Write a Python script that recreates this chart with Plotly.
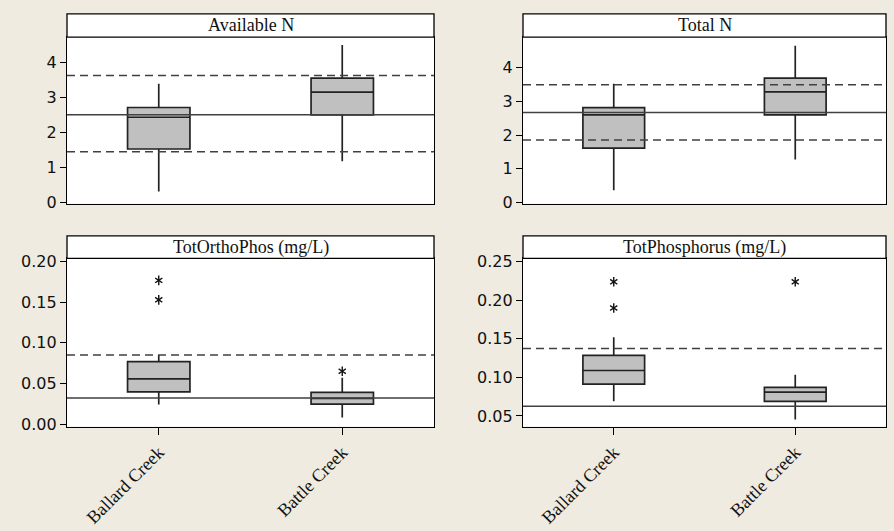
import plotly.graph_objects as go

# ---- data -------------------------------------------------------------
sites = ["Ballard Creek", "Battle Creek"]

# Available N
avail_lower = [0.31, 1.18]
avail_q1 = [1.53, 2.51]
avail_median = [2.44, 3.16]
avail_q3 = [2.72, 3.56]
avail_upper = [3.40, 4.51]
avail_center = 2.51
avail_limits = [3.64, 1.45]

# Total N
total_lower = [0.36, 1.27]
total_q1 = [1.61, 2.60]
total_median = [2.60, 3.28]
total_q3 = [2.81, 3.69]
total_upper = [3.52, 4.65]
total_center = 2.67
total_limits = [3.49, 1.85]

# TotOrthoPhos (mg/L)
ortho_lower = [0.024, 0.008]
ortho_q1 = [0.0396, 0.0244]
ortho_median = [0.0556, 0.0316]
ortho_q3 = [0.0768, 0.039]
ortho_upper = [0.085, 0.057]
ortho_center = 0.032
ortho_limits = [0.085]
ortho_out_site = ["Ballard Creek", "Ballard Creek", "Battle Creek"]
ortho_out_val = [0.177, 0.153, 0.065]

# TotPhosphorus (mg/L)
phos_lower = [0.069, 0.0453]
phos_q1 = [0.0913, 0.069]
phos_median = [0.109, 0.0808]
phos_q3 = [0.1287, 0.0871]
phos_upper = [0.152, 0.1035]
phos_center = 0.0625
phos_limits = [0.1376]
phos_out_site = ["Ballard Creek", "Ballard Creek", "Battle Creek"]
phos_out_val = [0.224, 0.190, 0.224]

# ---- styling ----------------------------------------------------------
W, H = 894, 531
BG = "#EFEBE0"
BOX_FILL = "#C0C0C0"
BOX_LINE = "#222222"
REF_LINE = "#404040"
INK = "#111111"
SANS = "DejaVu Sans"
SERIF = "Liberation Serif"

panels = [
    dict(title="Available N", lower=avail_lower, q1=avail_q1, med=avail_median,
         q3=avail_q3, upper=avail_upper, center=avail_center, limits=avail_limits,
         out_x=[], out_y=[], yrange=[-0.036, 4.736], dtick=1, fmt="d",
         px=(67, 434), py=(32, 203), head=8, bottom_row=False),
    dict(title="Total N", lower=total_lower, q1=total_q1, med=total_median,
         q3=total_q3, upper=total_upper, center=total_center, limits=total_limits,
         out_x=[], out_y=[], yrange=[-0.038, 4.905], dtick=1, fmt="d",
         px=(523, 886), py=(32, 203), head=8, bottom_row=False),
    dict(title="TotOrthoPhos (mg/L)", lower=ortho_lower, q1=ortho_q1, med=ortho_median,
         q3=ortho_q3, upper=ortho_upper, center=ortho_center, limits=ortho_limits,
         out_x=ortho_out_site, out_y=ortho_out_val, yrange=[-0.0032, 0.204],
         dtick=0.05, fmt=".2f", px=(67, 434), py=(259.3, 432), head=236, bottom_row=True),
    dict(title="TotPhosphorus (mg/L)", lower=phos_lower, q1=phos_q1, med=phos_median,
         q3=phos_q3, upper=phos_upper, center=phos_center, limits=phos_limits,
         out_x=phos_out_site, out_y=phos_out_val, yrange=[0.0362, 0.2543],
         dtick=0.05, fmt=".2f", px=(523, 886), py=(259.3, 432), head=236, bottom_row=True),
]

fig = go.Figure()
shapes = []
annotations = []
layout = {}

for i, p in enumerate(panels, start=1):
    xa = "x" if i == 1 else f"x{i}"
    ya = "y" if i == 1 else f"y{i}"
    xkey = "xaxis" if i == 1 else f"xaxis{i}"
    ykey = "yaxis" if i == 1 else f"yaxis{i}"

    fig.add_trace(go.Box(
        x=sites, q1=p["q1"], median=p["med"], q3=p["q3"],
        lowerfence=p["lower"], upperfence=p["upper"],
        width=0.34, whiskerwidth=0, boxpoints=False,
        fillcolor=BOX_FILL, line=dict(color=BOX_LINE, width=1.7),
        showlegend=False, xaxis=xa, yaxis=ya, hoverinfo="skip",
    ))

    # outliers drawn as six-armed asterisks (two overlaid Y marks)
    if p["out_y"]:
        for sym in ("y-up-open", "y-down-open"):
            fig.add_trace(go.Scatter(
                x=p["out_x"], y=p["out_y"], mode="markers",
                marker=dict(symbol=sym, size=6, color=INK, line=dict(color=INK, width=1.4)),
                showlegend=False, xaxis=xa, yaxis=ya, hoverinfo="skip",
            ))

    x0, x1 = p["px"]
    y0, y1 = p["py"]
    plot_h = y1 - y0
    head_top = 1 + (y0 - p["head"]) / plot_h

    layout[xkey] = dict(
        domain=[x0 / W, x1 / W], anchor=ya, type="category",
        range=[-0.5, 1.5], showline=True, mirror=True, linecolor="black", linewidth=1.3,
        showgrid=False, zeroline=False,
        ticks="outside" if p["bottom_row"] else "", ticklen=7, tickwidth=1.3, tickcolor="black",
        showticklabels=p["bottom_row"], tickangle=-45,
        tickfont=dict(family=SERIF, size=18, color=INK),
    )
    layout[ykey] = dict(
        domain=[1 - y1 / H, 1 - y0 / H], anchor=xa,
        range=p["yrange"], showline=True, mirror=True, linecolor="black", linewidth=1.3,
        showgrid=False, zeroline=False, dtick=p["dtick"], tick0=0, tickformat=p["fmt"],
        ticks="outside", ticklen=6, tickwidth=1.3, tickcolor="black",
        tickfont=dict(family=SANS, size=16, color=INK),
    )

    # header strip with the panel title
    shapes.append(dict(type="rect", xref=f"{xa} domain", yref=f"{ya} domain",
                       x0=0, x1=1, y0=1, y1=head_top, fillcolor="white",
                       line=dict(color="black", width=1.3), layer="above"))
    annotations.append(dict(text=p["title"], xref=f"{xa} domain", yref=f"{ya} domain",
                            x=0.5, y=(1 + head_top) / 2, xanchor="center", yanchor="middle",
                            showarrow=False, font=dict(family=SERIF, size=18, color=INK)))

    # reference lines: solid centre, dashed limits
    shapes.append(dict(type="line", xref=f"{xa} domain", yref=ya, x0=0, x1=1,
                       y0=p["center"], y1=p["center"], layer="above",
                       line=dict(color=REF_LINE, width=1.5)))
    for lim in p["limits"]:
        shapes.append(dict(type="line", xref=f"{xa} domain", yref=ya, x0=0, x1=1,
                           y0=lim, y1=lim, layer="above",
                           line=dict(color=REF_LINE, width=1.5, dash="8px,5px")))

fig.update_layout(
    width=W, height=H, margin=dict(l=0, r=0, t=0, b=0),
    paper_bgcolor=BG, plot_bgcolor="white",
    shapes=shapes, annotations=annotations, showlegend=False,
    **layout,
)

fig.write_html("out.html")
